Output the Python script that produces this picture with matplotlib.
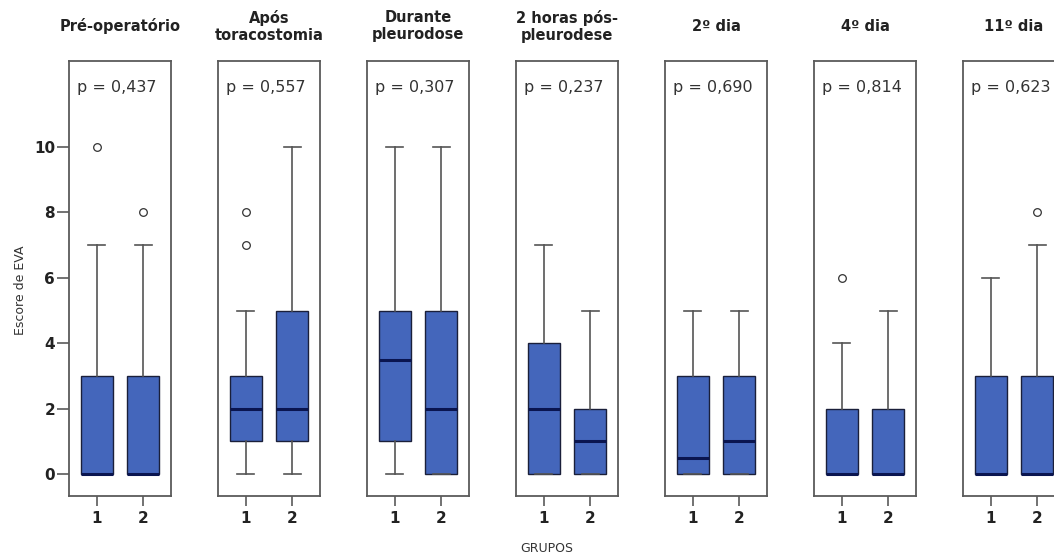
import matplotlib
matplotlib.use("Agg")
import matplotlib.pyplot as plt

plt.rcParams['font.family'] = ['DejaVu Sans']

titles = ["Pré-operatório", "Após\ntoracostomia", "Durante\npleurodose",
          "2 horas pós-\npleurodese", "2º dia", "4º dia", "11º dia"]
p_values = ["p = 0,437", "p = 0,557", "p = 0,307", "p = 0,237",
            "p = 0,690", "p = 0,814", "p = 0,623"]
groups = ["1", "2"]

# per panel: [group1, group2]
whislo = [[0, 0], [0, 0], [0, 0], [0, 0], [0, 0], [0, 0], [0, 0]]
q1     = [[0, 0], [1, 1], [1, 0], [0, 0], [0, 0], [0, 0], [0, 0]]
med    = [[0, 0], [2, 2], [3.5, 2], [2, 1], [0.5, 1], [0, 0], [0, 0]]
q3     = [[3, 3], [3, 5], [5, 5], [4, 2], [3, 3], [2, 2], [3, 3]]
whishi = [[7, 7], [5, 10], [10, 10], [7, 5], [5, 5], [4, 5], [6, 7]]
fliers = [[[10], [8]], [[7, 8], []], [[], []], [[], []], [[], []], [[6], []], [[], [8]]]

yticks = [0, 2, 4, 6, 8, 10]

W, H = 1054, 556
fig = plt.figure(figsize=(W / 100, H / 100), dpi=100)

box_color = "#4466BB"
edge_color = "#1a1f3a"
spine_color = "#5a5a5a"

ax_w = 102 / W
ax_h = (496 - 61) / H
bottom = (H - 496) / H
for i in range(7):
    left = (69 + i * 149) / W
    ax = fig.add_axes([left, bottom, ax_w, ax_h])
    stats = []
    for g in range(2):
        stats.append(dict(whislo=whislo[i][g], q1=q1[i][g], med=med[i][g],
                          q3=q3[i][g], whishi=whishi[i][g], fliers=fliers[i][g]))
    ax.bxp(stats, positions=[1, 2], widths=0.7, patch_artist=True,
           boxprops=dict(facecolor=box_color, edgecolor=edge_color, linewidth=1.0),
           medianprops=dict(color="#0a1550", linewidth=2.2),
           whiskerprops=dict(color="#555555", linewidth=1.2),
           capprops=dict(color="#555555", linewidth=1.2),
           capwidths=0.36,
           flierprops=dict(marker='o', markerfacecolor='white',
                           markeredgecolor='#333333', markersize=5.5, markeredgewidth=0.9))
    ax.set_xlim(0.4, 2.6)
    ax.set_ylim(-0.67, 12.63)
    ax.set_xticks([1, 2])
    ax.set_xticklabels(groups, fontsize=11, fontweight='bold', color='#222222')
    ax.tick_params(axis='x', length=7.5, width=1.2, color=spine_color, pad=3)
    for s in ax.spines.values():
        s.set_color(spine_color)
        s.set_linewidth(1.3)
    if i == 0:
        ax.set_yticks(yticks)
        ax.set_yticklabels([str(t) for t in yticks], fontsize=11, fontweight='bold', color='#222222')
        ax.tick_params(axis='y', length=9, width=1.2, color=spine_color, pad=1)
        ax.set_ylabel("Escore de EVA", fontsize=9, color='#333333')
        ax.yaxis.set_label_coords(-0.41, 0.474)
    else:
        ax.set_yticks([])
    ax.text(0.5, 1.080, titles[i], transform=ax.transAxes, ha='center', va='center',
            fontsize=10.5, fontweight='bold', color='#222222', linespacing=1.15)
    ax.text(0.47, 0.94, p_values[i], transform=ax.transAxes, ha='center', va='center',
            fontsize=11.5, color='#333333')

fig.text(547 / W, 1 - 548 / H, "GRUPOS", ha='center', va='center', fontsize=9, color='#333333')

fig.savefig("out.png", dpi=100)
